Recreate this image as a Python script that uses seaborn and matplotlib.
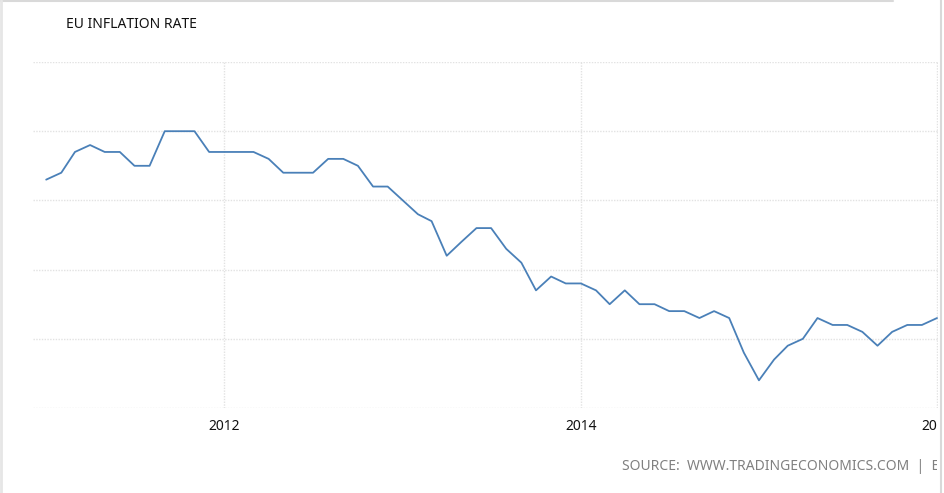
import matplotlib
matplotlib.use("Agg")
import matplotlib.pyplot as plt
import seaborn as sns
import pandas as pd
from matplotlib.transforms import Bbox, TransformedBbox
from matplotlib.lines import Line2D

# ---- data (monthly, Jan 2011 .. Jan 2016, % y/y) ----
months = pd.date_range("2011-01-01", "2016-01-01", freq="MS")
inflation = [
    2.3, 2.4, 2.7, 2.8, 2.7, 2.7, 2.5, 2.5, 3.0, 3.0, 3.0, 2.7,   # 2011
    2.7, 2.7, 2.7, 2.6, 2.4, 2.4, 2.4, 2.6, 2.6, 2.5, 2.2, 2.2,   # 2012
    2.0, 1.8, 1.7, 1.2, 1.4, 1.6, 1.6, 1.3, 1.1, 0.7, 0.9, 0.8,   # 2013
    0.8, 0.7, 0.5, 0.7, 0.5, 0.5, 0.4, 0.4, 0.3, 0.4, 0.3, -0.2,  # 2014
    -0.6, -0.3, -0.1, 0.0, 0.3, 0.2, 0.2, 0.1, -0.1, 0.1, 0.2, 0.2,  # 2015
    0.3,                                                          # 2016
]
tick_years = ["2012", "2014", "2016"]
y_gridlines = [-1, 0, 1, 2, 3, 4]
title = "EU INFLATION RATE"
source = "SOURCE:  WWW.TRADINGECONOMICS.COM  |  EUROSTAT"

df = pd.DataFrame({"date": months, "value": inflation})

sns.set_style("white")
plt.rcParams["font.family"] = ["Noto Sans", "DejaVu Sans"]

W, H = 944, 493
fig = plt.figure(figsize=(W / 100, H / 100), dpi=100)
ax = fig.add_axes([33 / W, (H - 408) / H, (938 - 33) / W, (408 - 62) / H])

sns.lineplot(data=df, x="date", y="value", ax=ax, color="#4a80b8", linewidth=1.3)

ax.set_xlim(pd.Timestamp("2010-12-05"), pd.Timestamp("2016-01-03"))
ax.set_ylim(min(y_gridlines), max(y_gridlines))
ax.set_xlabel("")
ax.set_ylabel("")

ax.set_xticks([pd.Timestamp(f"{y}-01-01") for y in tick_years])
ax.set_xticklabels(tick_years)
ax.set_yticks(y_gridlines)
ax.set_yticklabels([])
ax.tick_params(axis="y", length=0)
ax.tick_params(axis="x", length=5, width=1, color="#e4e4e4", pad=3,
               labelsize=10, labelcolor="#111111")
ax.grid(True, color="#e2e2e2", linestyle=(0, (1, 1)), linewidth=1)
for s in ax.spines.values():
    s.set_visible(False)

clip = TransformedBbox(Bbox([[0, 0], [937 / W, 1]]), fig.transFigure)
for lab in ax.get_xticklabels():
    lab.set_clip_on(True)
    lab.set_clip_box(clip)

fig.text(66 / W, 1 - 25 / H, title, fontsize=10, color="#111111",
         va="center", ha="left")
st = fig.text(622 / W, 1 - 467 / H, source, fontsize=10, color="#808080",
              va="center", ha="left")
st.set_clip_on(True)
st.set_clip_box(clip)

# frame decorations of the cropped widget
fig.add_artist(Line2D([941 / W, 941 / W], [0, 1], transform=fig.transFigure,
                      color="#d9d9d9", linewidth=1.5))
fig.add_artist(Line2D([0, 893 / W], [1 - 0.5 / H, 1 - 0.5 / H],
                      transform=fig.transFigure, color="#d9d9d9", linewidth=1.5))
fig.add_artist(Line2D([1 / W, 1 / W], [0, 1], transform=fig.transFigure,
                      color="#e6e6e6", linewidth=2))

fig.savefig("out.png", dpi=100)
